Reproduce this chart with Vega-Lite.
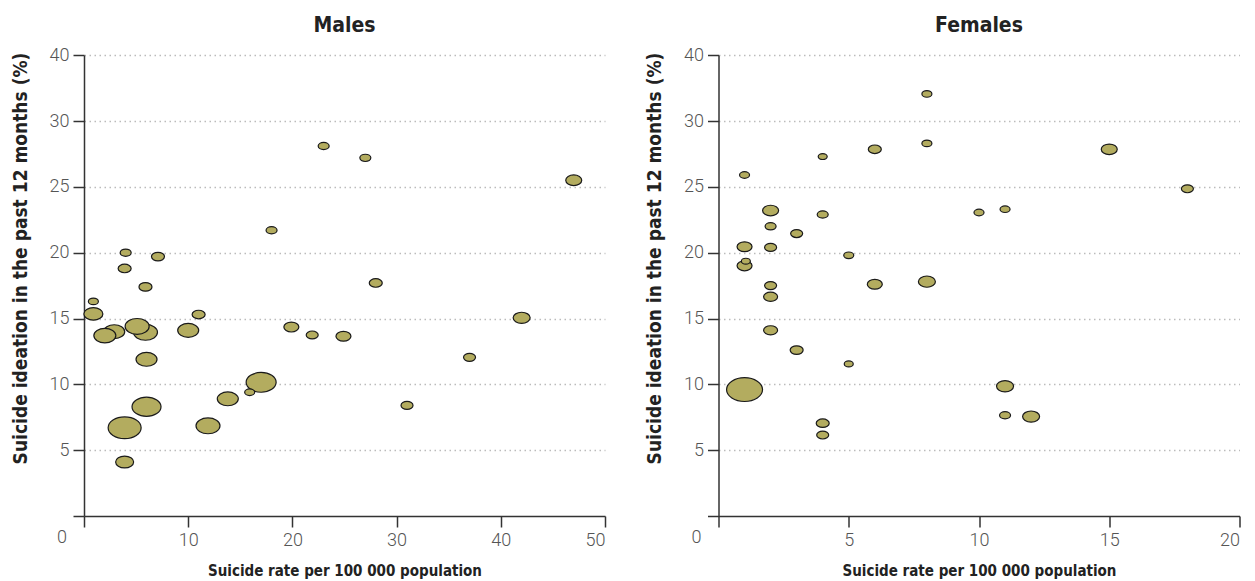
{
  "$schema": "https://vega.github.io/schema/vega-lite/v6.json",
  "background": "white",
  "padding": {"left": 11, "top": 15, "right": 5, "bottom": 2},
  "datasets": {
    "males": [
      {"rate": 4.0, "ideation": 20.0, "n": 1.21},
      {"rate": 7.1, "ideation": 19.7, "n": 1.69},
      {"rate": 3.9, "ideation": 18.8, "n": 1.69},
      {"rate": 5.9, "ideation": 17.4, "n": 1.69},
      {"rate": 0.9, "ideation": 16.3, "n": 1.0},
      {"rate": 0.9, "ideation": 15.35, "n": 3.61},
      {"rate": 11.0, "ideation": 15.3, "n": 1.69},
      {"rate": 2.9, "ideation": 14.0, "n": 4.41},
      {"rate": 2.0, "ideation": 13.7, "n": 4.84},
      {"rate": 5.9, "ideation": 13.95, "n": 5.76},
      {"rate": 5.1, "ideation": 14.4, "n": 5.76},
      {"rate": 10.0, "ideation": 14.1, "n": 4.41},
      {"rate": 6.0, "ideation": 11.9, "n": 4.41},
      {"rate": 17.0, "ideation": 10.15, "n": 9.0},
      {"rate": 15.9, "ideation": 9.4, "n": 1.0},
      {"rate": 13.8, "ideation": 8.9, "n": 4.41},
      {"rate": 6.0, "ideation": 8.3, "n": 8.41},
      {"rate": 3.9, "ideation": 6.7, "n": 10.89},
      {"rate": 11.9, "ideation": 6.85, "n": 5.76},
      {"rate": 3.9, "ideation": 4.1, "n": 3.24},
      {"rate": 18.0, "ideation": 21.7, "n": 1.21},
      {"rate": 28.0, "ideation": 17.7, "n": 1.69},
      {"rate": 19.9, "ideation": 14.35, "n": 2.25},
      {"rate": 21.9, "ideation": 13.75, "n": 1.44},
      {"rate": 24.9, "ideation": 13.65, "n": 2.25},
      {"rate": 31.0, "ideation": 8.4, "n": 1.44},
      {"rate": 23.0, "ideation": 28.1, "n": 1.21},
      {"rate": 27.0, "ideation": 27.2, "n": 1.21},
      {"rate": 47.0, "ideation": 25.5, "n": 2.56},
      {"rate": 42.0, "ideation": 15.05, "n": 2.89},
      {"rate": 37.0, "ideation": 12.05, "n": 1.44}
    ],
    "females": [
      {"rate": 1.0, "ideation": 25.9, "n": 1.0},
      {"rate": 2.0, "ideation": 23.2, "n": 2.56},
      {"rate": 2.0, "ideation": 22.0, "n": 1.21},
      {"rate": 4.0, "ideation": 22.9, "n": 1.21},
      {"rate": 3.0, "ideation": 21.45, "n": 1.44},
      {"rate": 1.0, "ideation": 20.45, "n": 2.25},
      {"rate": 2.0, "ideation": 20.4, "n": 1.44},
      {"rate": 5.0, "ideation": 19.8, "n": 1.0},
      {"rate": 1.0, "ideation": 19.0, "n": 2.25},
      {"rate": 1.05, "ideation": 19.35, "n": 0.81},
      {"rate": 2.0, "ideation": 17.5, "n": 1.44},
      {"rate": 2.0, "ideation": 16.65, "n": 1.96},
      {"rate": 6.0, "ideation": 17.6, "n": 2.25},
      {"rate": 2.0, "ideation": 14.1, "n": 1.96},
      {"rate": 3.0, "ideation": 12.6, "n": 1.69},
      {"rate": 5.0, "ideation": 11.55, "n": 0.81},
      {"rate": 1.0, "ideation": 9.6, "n": 12.96},
      {"rate": 4.0, "ideation": 7.05, "n": 1.69},
      {"rate": 4.0, "ideation": 6.15, "n": 1.44},
      {"rate": 8.0, "ideation": 34.1, "n": 1.0},
      {"rate": 6.0, "ideation": 27.85, "n": 1.69},
      {"rate": 8.0, "ideation": 28.3, "n": 1.0},
      {"rate": 4.0, "ideation": 27.3, "n": 0.81},
      {"rate": 10.0, "ideation": 23.05, "n": 1.0},
      {"rate": 11.0, "ideation": 23.3, "n": 1.0},
      {"rate": 8.0, "ideation": 17.8, "n": 2.89},
      {"rate": 15.0, "ideation": 27.85, "n": 2.56},
      {"rate": 18.0, "ideation": 24.85, "n": 1.44},
      {"rate": 11.0, "ideation": 9.85, "n": 2.89},
      {"rate": 11.0, "ideation": 7.65, "n": 1.21},
      {"rate": 12.0, "ideation": 7.55, "n": 2.89}
    ],
    "corner": [{"label": "0"}]
  },
  "config": {
    "view": {"stroke": null},
    "font": "DejaVu Sans Condensed, Roboto, sans-serif",
    "axis": {
      "domainColor": "#333333",
      "domainWidth": 1.5,
      "tickColor": "#333333",
      "tickWidth": 1.5,
      "tickSize": 11,
      "labelFont": "Roboto, sans-serif",
      "labelFontWeight": 300,
      "labelFontSize": 18,
      "labelColor": "#555555",
      "labelPadding": 4,
      "titleFont": "DejaVu Sans Condensed, Roboto, sans-serif",
      "titleFontWeight": "bold",
      "titleColor": "#222222"
    },
    "title": {"font": "DejaVu Sans Condensed, Roboto, sans-serif", "fontSize": 21, "fontWeight": "bold", "color": "#222222", "anchor": "middle", "offset": 10}
  },
  "spacing": 39.5,
  "hconcat": [
    {
      "title": "Males",
      "width": 521,
      "height": 461,
      "layer": [
        {
          "data": {"name": "males"},
          "mark": {"type": "point", "shape": "M-1,0A1,0.66,0,1,0,1,0A1,0.66,0,1,0,-1,0Z", "filled": true, "fill": "#b3ac5f", "stroke": "#1a1a1a", "strokeWidth": 1.2, "opacity": 1, "fillOpacity": 1},
          "encoding": {
            "x": {"field": "rate", "type": "quantitative", "scale": {"domain": [0, 50], "nice": false, "zero": false},
              "axis": {"values": [0, 10, 20, 30, 40, 50], "labelExpr": "datum.value == 0 ? '' : datum.label", "grid": false, "title": "Suicide rate per 100 000 population", "titleFontSize": 15, "titlePadding": 14}},
            "y": {"field": "ideation", "type": "quantitative", "scale": {"domain": [0, 30, 40], "range": [461, 66, 0], "nice": false, "zero": false},
              "axis": {"values": [0, 5, 10, 15, 20, 25, 30, 40], "labelExpr": "datum.value == 0 ? '' : datum.label", "grid": true, "gridColor": "#bbbbbb", "gridDash": [1.5, 3.5], "gridWidth": 1.5, "gridOpacity": {"condition": {"test": "datum.value == 0", "value": 0}, "value": 1}, "title": "Suicide ideation in the past 12 months (%)", "titleFontSize": 19, "titlePadding": 19, "titleY": 203}},
            "size": {"field": "n", "type": "quantitative", "scale": {"domain": [0, 13], "range": [0, 1300]}, "legend": null}
          }
        },
        {
          "data": {"name": "corner"},
          "mark": {"type": "text", "dx": -22, "dy": 22, "fontSize": 18, "font": "Roboto, sans-serif", "fontWeight": 300, "color": "#555555", "align": "center", "baseline": "middle"},
          "encoding": {
            "x": {"datum": 0, "type": "quantitative"},
            "y": {"datum": 0, "type": "quantitative"},
            "text": {"field": "label"}
          }
        }
      ]
    },
    {
      "title": "Females",
      "width": 521,
      "height": 461,
      "layer": [
        {
          "data": {"name": "females"},
          "mark": {"type": "point", "shape": "M-1,0A1,0.66,0,1,0,1,0A1,0.66,0,1,0,-1,0Z", "filled": true, "fill": "#b3ac5f", "stroke": "#1a1a1a", "strokeWidth": 1.2, "opacity": 1, "fillOpacity": 1},
          "encoding": {
            "x": {"field": "rate", "type": "quantitative", "scale": {"domain": [0, 20], "nice": false, "zero": false},
              "axis": {"values": [0, 5, 10, 15, 20], "labelExpr": "datum.value == 0 ? '' : datum.label", "grid": false, "title": "Suicide rate per 100 000 population", "titleFontSize": 15, "titlePadding": 14}},
            "y": {"field": "ideation", "type": "quantitative", "scale": {"domain": [0, 30, 40], "range": [461, 66, 0], "nice": false, "zero": false},
              "axis": {"values": [0, 5, 10, 15, 20, 25, 30, 40], "labelExpr": "datum.value == 0 ? '' : datum.label", "grid": true, "gridColor": "#bbbbbb", "gridDash": [1.5, 3.5], "gridWidth": 1.5, "gridOpacity": {"condition": {"test": "datum.value == 0", "value": 0}, "value": 1}, "title": "Suicide ideation in the past 12 months (%)", "titleFontSize": 19, "titlePadding": 19, "titleY": 203}},
            "size": {"field": "n", "type": "quantitative", "scale": {"domain": [0, 13], "range": [0, 1300]}, "legend": null}
          }
        },
        {
          "data": {"name": "corner"},
          "mark": {"type": "text", "dx": -22, "dy": 22, "fontSize": 18, "font": "Roboto, sans-serif", "fontWeight": 300, "color": "#555555", "align": "center", "baseline": "middle"},
          "encoding": {
            "x": {"datum": 0, "type": "quantitative"},
            "y": {"datum": 0, "type": "quantitative"},
            "text": {"field": "label"}
          }
        }
      ]
    }
  ]
}
